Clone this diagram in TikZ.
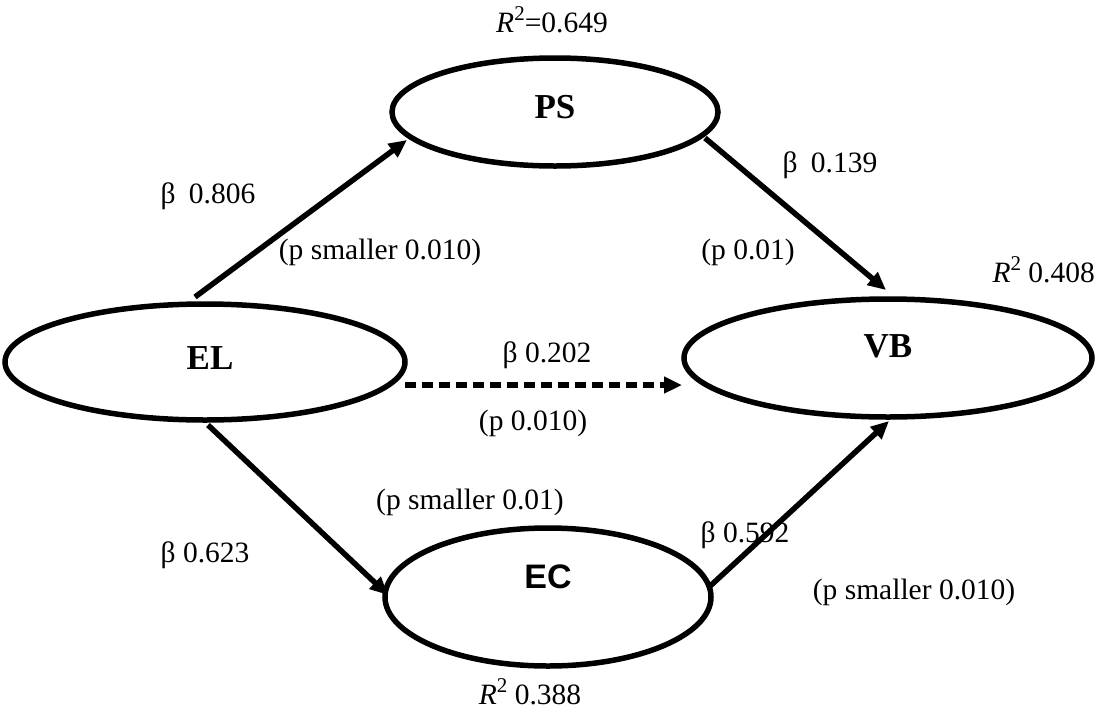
\documentclass[tikz,border=0pt]{standalone}
\usepackage{fontspec}
\setmainfont{Liberation Serif}
\setsansfont{Liberation Sans}
\usetikzlibrary{shapes.geometric,arrows.meta,calc}
% R squared, set in text with a raised 2
\newcommand{\rsq}{\textit{R}\raisebox{0.42em}{\fontsize{21}{21}\selectfont 2}}

\begin{document}
\begin{tikzpicture}[x=1pt,y=-1pt,
  construct/.style={ellipse,draw,line width=5.5pt,inner sep=0pt},
  lvname/.style={font=\fontsize{35}{40}\selectfont\bfseries},
  lvsname/.style={font=\fontsize{34}{40}\selectfont\sffamily\bfseries},
  txt/.style={font=\fontsize{29.5}{34}\selectfont,inner sep=0pt},
  effect/.style={line width=5.5pt,-{Triangle[length=18pt,width=16pt]}},
  weakeffect/.style={effect,dash pattern=on 11pt off 6pt}]
\useasboundingbox (0,0) rectangle (1096,713);

% latent constructs
\node[construct,minimum width=326pt,minimum height=108pt] (PS) at (555,112) {};
\node[construct,minimum width=400pt,minimum height=116pt] (EL) at (205,362) {};
\node[construct,minimum width=408pt,minimum height=118pt] (VB) at (888,358) {};
\node[construct,minimum width=326pt,minimum height=138pt] (EC) at (548,597) {};

\node[lvname]  (PSt) at ($(PS)+(0,-5)$) {PS};
\node[lvname]  (ELt) at ($(EL)+(5,-4)$) {EL};
\node[lvname]  (VBt) at ($(VB)+(0,-12)$) {VB};
\node[lvsname] (ECt) at ($(EC)+(0,-20)$) {EC};

% structural paths
\draw[effect] ($(EL)+(-10,-65)$) -- ($(PS)+(-148,28)$);
\draw[effect] ($(PS)+(150,26)$) -- ($(VB)+(-2,-68)$);
\draw[effect] ($(EL)+(3,63)$) -- ($(EC)+(-160,-2)$);
\draw[effect] ($(EC)+(160,-9)$) -- ($(VB)+(1,63)$);
\draw[weakeffect] ($(EL)+(200,23)$) -- ($(VB)+(-206,27)$);

% explained variance
\node[txt] (r2ps) at (552,20) {\rsq{}=0.649};
\node[txt,anchor=east] (r2vb) at (1095,270) {\rsq{} 0.408};
\node[txt] (r2ec) at (530,692) {\rsq{} 0.388};

% path coefficients
\node[txt] (b1) at (208,196) {β\hspace{0.45em}0.806};
\node[txt] (p1) at (380,252) {(p smaller 0.010)};
\node[txt] (b2) at (830,165) {β\hspace{0.45em}0.139};
\node[txt] (p2) at (748,252) {(p 0.01)};
\node[txt] (b3) at (547,355) {β 0.202};
\node[txt] (p3) at (533,423) {(p 0.010)};
\node[txt] (p4) at (470,502) {(p smaller 0.01)};
\node[txt] (b4) at (205,555) {β 0.623};
\node[txt] (b5) at (745,535) {β 0.592};
\node[txt] (p5) at (914,592) {(p smaller 0.010)};
\end{tikzpicture}
\end{document}
